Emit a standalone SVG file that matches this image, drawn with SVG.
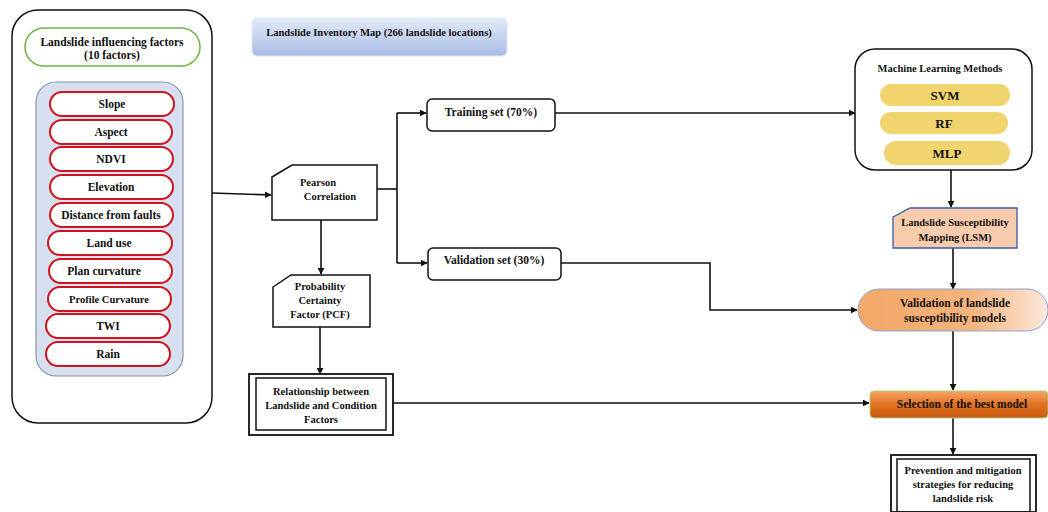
<svg xmlns="http://www.w3.org/2000/svg" width="1048" height="512" viewBox="0 0 1048 512" font-family="'Liberation Serif', 'DejaVu Serif', serif">
<defs>
<style>
text{font-family:'Liberation Serif','DejaVu Serif',serif;font-weight:bold;fill:#111;text-anchor:middle}
.t11{font-size:11.5px}
.t10{font-size:10.5px}
.t12{font-size:13px}
.pill{fill:#fff;stroke:#d0121b;stroke-width:2}
.ypill{fill:#f0d46e;stroke:none}
.ln{fill:none;stroke:#111;stroke-width:1.6}
.box{fill:#fff;stroke:#111;stroke-width:1.5}
</style>
<marker id="ar" viewBox="0 0 10 10" refX="9" refY="5" markerWidth="7" markerHeight="7" orient="auto" markerUnits="userSpaceOnUse">
<path d="M0,0 L10,5 L0,10 z" fill="#111"/>
</marker>
<linearGradient id="gInv" x1="0" y1="0" x2="0" y2="1">
<stop offset="0" stop-color="#e3eaf7"/>
<stop offset="1" stop-color="#a9bde6"/>
</linearGradient>
<linearGradient id="gVal" x1="0" y1="0" x2="1" y2="0">
<stop offset="0" stop-color="#f2a868"/>
<stop offset="0.6" stop-color="#f4b47e"/>
<stop offset="1" stop-color="#fde9dc"/>
</linearGradient>
<linearGradient id="gSel" x1="0" y1="0" x2="0" y2="1">
<stop offset="0" stop-color="#f6a56a"/>
<stop offset="0.5" stop-color="#e2721f"/>
<stop offset="1" stop-color="#c8580e"/>
</linearGradient>
</defs>

<g id="connectors">
<path class="ln" d="M212,193 L271,195" marker-end="url(#ar)"/>
<path class="ln" d="M377,189 L397,189"/>
<path class="ln" d="M397,113 L397,263"/>
<path class="ln" d="M397,113 L426,113" marker-end="url(#ar)"/>
<path class="ln" d="M397,263 L427,263" marker-end="url(#ar)"/>
<path class="ln" d="M555,113 L855,113" marker-end="url(#ar)"/>
<path class="ln" d="M321,220 L321,274" marker-end="url(#ar)"/>
<path class="ln" d="M320,327 L320,374" marker-end="url(#ar)"/>
<path class="ln" d="M561,263 L710,263 L710,310 L857,310" marker-end="url(#ar)"/>
<path class="ln" d="M951,170 L951,207" marker-end="url(#ar)"/>
<path class="ln" d="M953,248 L953,289" marker-end="url(#ar)"/>
<path class="ln" d="M953,331 L953,390" marker-end="url(#ar)"/>
<path class="ln" d="M393,403 L869,403" marker-end="url(#ar)"/>
<path class="ln" d="M953,418 L953,454" marker-end="url(#ar)"/>
</g>

<g id="factors-container">
<rect x="12" y="10" width="200" height="413" rx="26" class="box" stroke-width="1.8"/>
</g>
<g id="factors-title">
<rect x="25" y="28" width="175" height="38" rx="19" fill="#fff" stroke="#6cb543" stroke-width="1.5"/>
<text class="t11" x="112" y="46">Landslide influencing factors</text>
<text class="t11" x="112" y="59">(10 factors)</text>
</g>
<g id="factors-list">
<rect x="36" y="82" width="147" height="294" rx="20" fill="#d6e0f1" stroke="#8a96a8" stroke-width="1.2"/>
</g>
<g id="f-slope"><rect x="50" y="92" width="124" height="24" rx="12" class="pill"/><text class="t11" x="112" y="108">Slope</text></g>
<g id="f-aspect"><rect x="50" y="120" width="122" height="24" rx="12" class="pill"/><text class="t11" x="111" y="136">Aspect</text></g>
<g id="f-ndvi"><rect x="50" y="147" width="123" height="24" rx="12" class="pill"/><text class="t11" x="111" y="163">NDVI</text></g>
<g id="f-elevation"><rect x="50" y="175" width="123" height="24" rx="12" class="pill"/><text class="t11" x="111" y="191">Elevation</text></g>
<g id="f-faults"><rect x="50" y="203" width="123" height="24" rx="12" class="pill"/><text class="t11" x="111" y="219">Distance from faults</text></g>
<g id="f-landuse"><rect x="48" y="231" width="124" height="24" rx="12" class="pill"/><text class="t11" x="109" y="247">Land use</text></g>
<g id="f-plan"><rect x="49" y="259" width="123" height="24" rx="12" class="pill"/><text class="t11" x="104" y="275">Plan curvature</text></g>
<g id="f-profile"><rect x="48" y="287" width="123" height="24" rx="12" class="pill"/><text class="t10" x="109" y="303">Profile Curvature</text></g>
<g id="f-twi"><rect x="46" y="314" width="124" height="24" rx="12" class="pill"/><text class="t11" x="108" y="330">TWI</text></g>
<g id="f-rain"><rect x="46" y="342" width="124" height="24" rx="12" class="pill"/><text class="t11" x="108" y="358">Rain</text></g>

<g id="inventory">
<rect x="252" y="18" width="255" height="38" rx="5" fill="url(#gInv)" stroke="#dfe6f3" stroke-width="1"/>
<text class="t10" x="379" y="36">Landslide Inventory Map (266 landslide locations)</text>
</g>

<g id="pearson">
<path d="M272,177 L292,165 L377,165 L377,220 L272,220 Z" class="box"/>
<text class="t10" x="318" y="186">Pearson</text>
<text class="t10" x="330" y="200">Correlation</text>
</g>

<g id="pcf">
<path d="M273,287 L291,275 L370,275 L370,327 L273,327 Z" class="box"/>
<text class="t10" x="320" y="290">Probability</text>
<text class="t10" x="320" y="304">Certainty</text>
<text class="t10" x="320" y="318">Factor (PCF)</text>
</g>

<g id="relationship">
<rect x="249" y="374" width="144" height="61" fill="#fff" stroke="#111" stroke-width="1.8"/>
<rect x="256" y="378" width="130" height="52" fill="none" stroke="#111" stroke-width="1.5"/>
<text class="t10" x="321" y="395">Relationship between</text>
<text class="t10" x="321" y="409">Landslide and Condition</text>
<text class="t10" x="321" y="423">Factors</text>
</g>

<g id="training">
<rect x="427" y="99" width="128" height="32" rx="5" class="box"/>
<text class="t11" x="491" y="116">Training set (70%)</text>
</g>

<g id="validation-set">
<rect x="428" y="248" width="133" height="32" rx="5" class="box"/>
<text class="t11" x="494" y="264">Validation set (30%)</text>
</g>

<g id="ml">
<rect x="855" y="49" width="177" height="121" rx="20" class="box"/>
<text class="t10" x="940" y="72">Machine Learning Methods</text>
<rect x="880" y="84" width="130" height="22" rx="11" class="ypill"/>
<text class="t12" x="945" y="100">SVM</text>
<rect x="880" y="112" width="128" height="22" rx="11" class="ypill"/>
<text class="t12" x="944" y="128">RF</text>
<rect x="884" y="141" width="126" height="24" rx="12" class="ypill"/>
<text class="t12" x="947" y="158">MLP</text>
</g>

<g id="lsm">
<path d="M893,217 L910,208 L1017,208 L1017,248 L893,248 Z" fill="#f8cbad" stroke="#3a5ea8" stroke-width="1.3"/>
<text class="t10" x="955" y="226">Landslide Susceptibility</text>
<text class="t10" x="955" y="241">Mapping (LSM)</text>
</g>

<g id="validation-models">
<rect x="858" y="289" width="190" height="42" rx="21" fill="url(#gVal)" stroke="#8ea3cf" stroke-width="1"/>
<text class="t11" x="955" y="307">Validation of landslide</text>
<text class="t11" x="955" y="322">susceptibility models</text>
</g>

<g id="selection">
<rect x="870" y="391" width="178" height="27" rx="4" fill="url(#gSel)" stroke="#a8cf78" stroke-width="1"/>
<text class="t11" x="962" y="408">Selection of the best model</text>
</g>

<g id="prevention">
<rect x="891" y="455" width="145" height="57" fill="#fff" stroke="#111" stroke-width="1.8"/>
<rect x="897" y="459" width="133" height="53" fill="none" stroke="#111" stroke-width="1.5"/>
<text class="t10" x="963" y="474">Prevention and mitigation</text>
<text class="t10" x="963" y="488">strategies for reducing</text>
<text class="t10" x="963" y="502">landslide risk</text>
</g>
</svg>
